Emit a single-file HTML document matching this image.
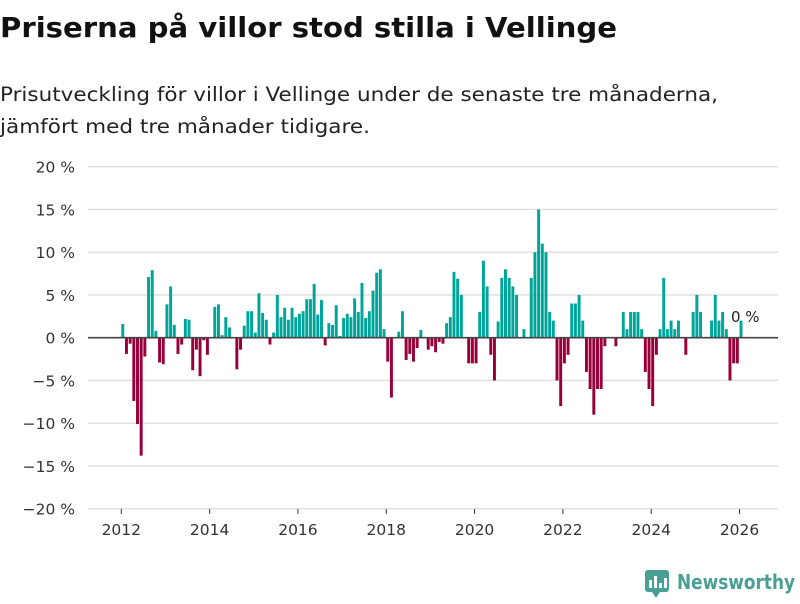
<!DOCTYPE html>
<html><head><meta charset="utf-8"><style>
body{margin:0;background:#fff;width:800px;height:600px;overflow:hidden;font-family:"DejaVu Sans","Liberation Sans",sans-serif}
svg text{font-family:"DejaVu Sans","Liberation Sans",sans-serif}
</style></head><body>
<svg width="800" height="600" viewBox="0 0 800 600">
<text x="0" y="37" font-size="28" font-weight="bold" fill="#111" textLength="617" lengthAdjust="spacingAndGlyphs">Priserna på villor stod stilla i Vellinge</text>
<text x="0" y="101" font-size="19.5" fill="#222" textLength="718" lengthAdjust="spacingAndGlyphs">Prisutveckling för villor i Vellinge under de senaste tre månaderna,</text>
<text x="0" y="133" font-size="19.5" fill="#222" textLength="370" lengthAdjust="spacingAndGlyphs">jämfört med tre månader tidigare.</text>
<g id="grid"></g><g id="bars"></g><g id="xaxis"></g>
<text x="731" y="322" font-size="15" fill="#222">0 %</text>
<g>
<rect x="645" y="570" width="24" height="22" rx="3" fill="#4a9f95"/>
<rect x="649" y="580" width="3" height="8" fill="#fff"/><rect x="654" y="576" width="3" height="12" fill="#fff"/><rect x="659" y="583" width="3" height="5" fill="#fff"/><rect x="664" y="578" width="3" height="10" fill="#fff"/>
<polygon points="652,592 660,592 656,598" fill="#4a9f95"/>
<text x="677" y="589" font-size="20" font-weight="bold" fill="#4a9f95" textLength="118" lengthAdjust="spacingAndGlyphs">Newsworthy</text>
</g>
</svg>
<script>
const yTicks=[20,15,10,5,0,-5,-10,-15,-20];
const yearTicks=[2012,2014,2016,2018,2020,2022,2024,2026];
const values=[1.6,-1.9,-0.7,-7.4,-10.1,-13.8,-2.2,7.1,7.9,0.8,-2.9,-3.1,
3.9,6.0,1.5,-1.9,-0.8,2.2,2.1,-3.8,-1.4,-4.5,-0.3,-2.0,
0,3.6,3.9,0.3,2.4,1.2,0,-3.7,-1.4,1.4,3.1,3.1,
0.6,5.2,2.9,2.1,-0.8,0.6,5.0,2.4,3.5,2.1,3.5,2.4,
2.8,3.1,4.5,4.5,6.3,2.7,4.4,-0.9,1.7,1.5,3.8,0.2,
2.3,2.8,2.4,4.6,3.0,6.4,2.3,3.1,5.5,7.6,8.0,1.0,
-2.8,-7.0,0,0.7,3.1,-2.6,-1.9,-2.8,-1.2,0.9,0,-1.4,
-1.0,-1.7,-0.5,-0.7,1.7,2.4,7.7,6.9,5.0,0,-3,-3,
-3,3,9.0,6.0,-2,-5,1.9,7,8,7,6,5,
0,1,0,7,10,15,11,10,3,2,-5,-8,
-3,-2,4,4,5,2,-4,-6,-9,-6,-6,-1,
0,0,-1,0,3,1,3,3,3,1,-4,-6,
-8,-2,1,7,1,2,1,2,0,-2,0,3,
5,3,0,0,2,5,2,3,1,-5,-3,-3,
2];
const startYear=2012;
const NS="http://www.w3.org/2000/svg";
const x0=121.3, monthW=3.68;
function xScale(m){return x0+m*monthW;}
function yScale(v){return 337.7-v*8.55;}
function mk(tag,attrs,parent){const e=document.createElementNS(NS,tag);for(const k in attrs)e.setAttribute(k,attrs[k]);parent.appendChild(e);return e;}
const grid=document.getElementById('grid');
yTicks.forEach(t=>{
  if(t!==0){const l=mk('line',{x1:88,x2:778,y1:yScale(t),y2:yScale(t),stroke:'#dedede','stroke-width':1.3},grid);
  
  }
  const tx=mk('text',{x:75,y:yScale(t)+6,'text-anchor':'end','font-size':15.5,fill:'#333'},grid);
  tx.textContent=(t<0?'−'+(-t):t)+' %';
  
  
});
const bars=document.getElementById('bars');
values.forEach((v,i)=>{
  const y=Math.min(yScale(v),yScale(0));
  const r=mk('rect',{x:xScale(i),y:y,width:2.95,height:Math.abs(yScale(v)-yScale(0)),fill:v>=0?'#00a59a':'#99003a'},bars);
  
  
});
const zl=mk('line',{x1:88,x2:778,y1:yScale(0),y2:yScale(0),stroke:'#444','stroke-width':1.6},bars);


const xa=document.getElementById('xaxis');
yearTicks.forEach(yr=>{
  const xx=xScale((yr-startYear)*12);
  const tk=mk('line',{x1:xx,x2:xx,y1:509,y2:514,stroke:'#333','stroke-width':1},xa);
  
  
  const t=mk('text',{x:xx,y:535,'text-anchor':'middle','font-size':15.5,fill:'#333'},xa);
  t.textContent=yr;
  
  
});
</script>
</body></html>
